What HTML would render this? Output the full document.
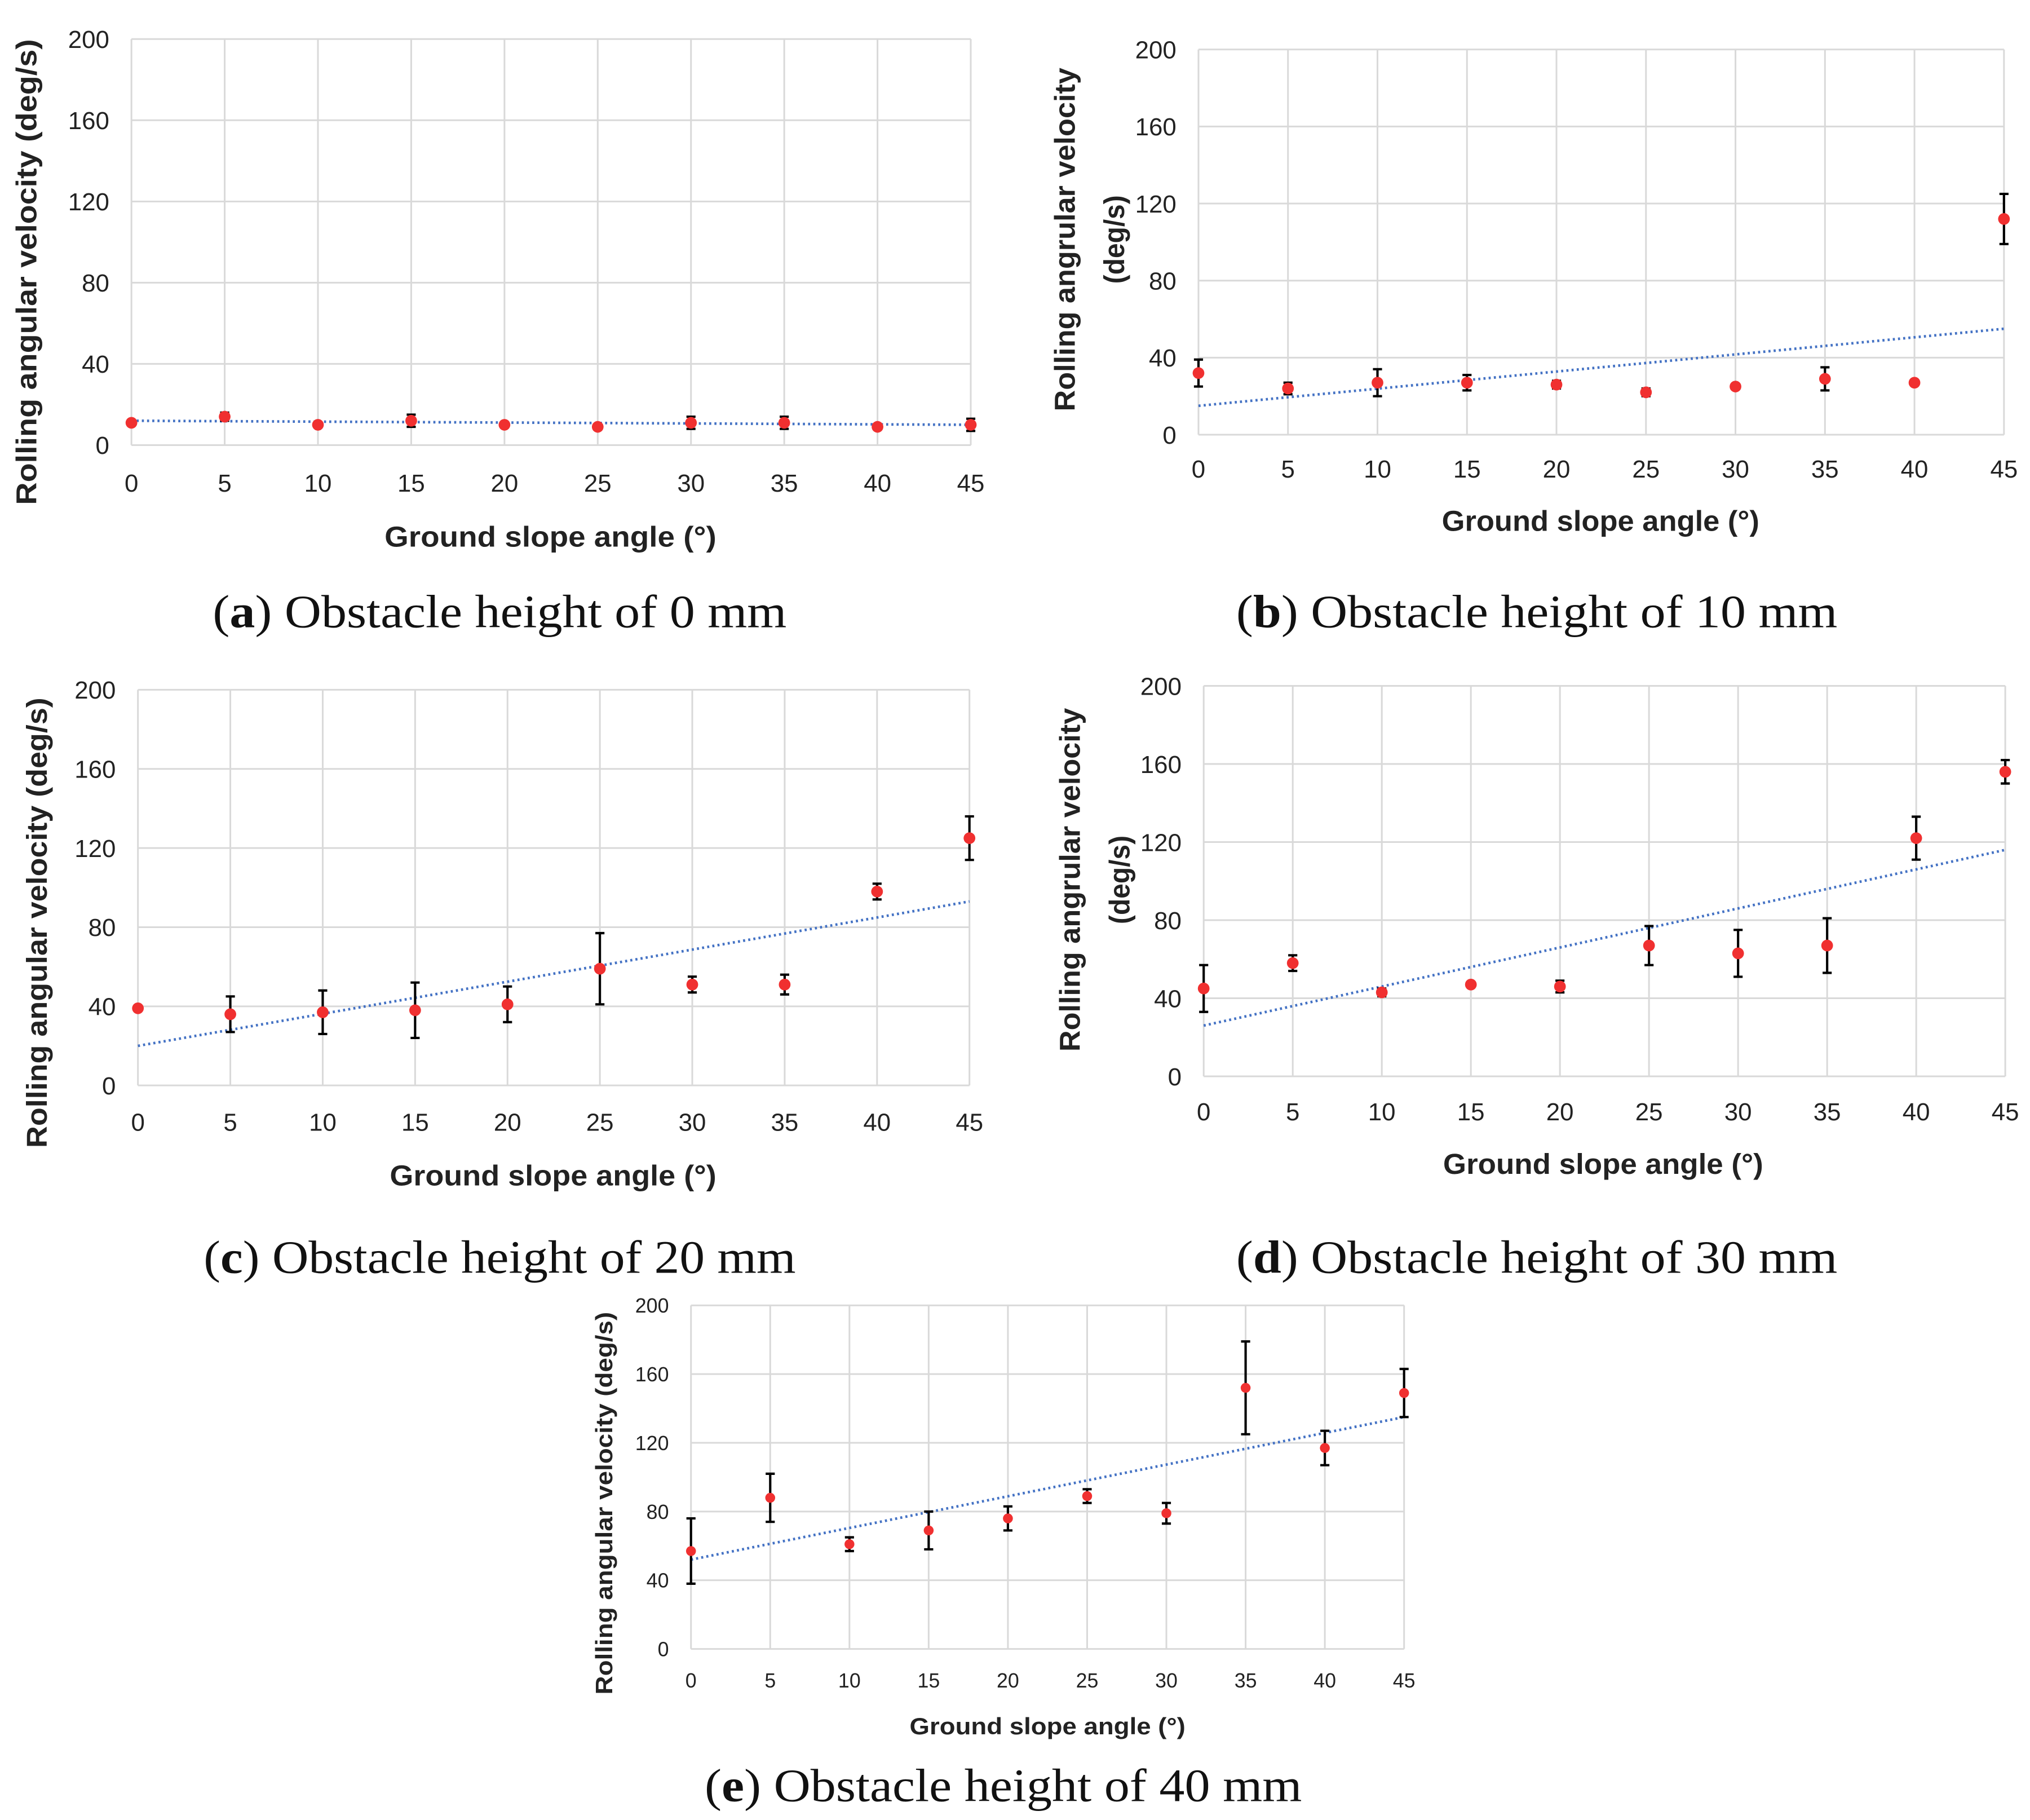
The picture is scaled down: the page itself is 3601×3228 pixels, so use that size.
<!DOCTYPE html>
<html><head><meta charset="utf-8"><style>
html,body{margin:0;padding:0;background:#fff}
svg{display:block}
</style></head><body>
<svg id="fig" width="3601" height="3228" viewBox="0 0 1560 1398.4" xmlns="http://www.w3.org/2000/svg"></svg>
<script>
const categories=[0,5,10,15,20,25,30,35,40,45];
const yTicks=[0,40,80,120,160,200];
const valsA=[11,14,10,12,10,9,11,11,9,10];
const errA=[1,2,1,3,1,1,3,3,1,3];
const trendA=[12,10];
const valsB=[32,24,27,27,26,22,25,29,27,112];
const errB=[7,3,7,4,2,2,1,6,1,13];
const trendB=[15,55];
const valsC=[39,36,37,38,41,59,51,51,98,125];
const errC=[1,9,11,14,9,18,4,5,4,11];
const trendC=[20,93];
const valsD=[45,58,43,47,46,67,63,67,122,156];
const errD=[12,4,2,1,3,10,12,14,11,6];
const trendD=[26,116];
const valsE=[57,88,61,69,76,89,79,152,117,149];
const errE=[19,14,4,11,7,4,6,27,10,14];
const trendE=[52,135];
const captionsText=["a","b","c","d","e"];

const NS="http://www.w3.org/2000/svg";
const svg=document.getElementById('fig');
function mk(tag,attrs,parent){const e=document.createElementNS(NS,tag);for(const k in attrs)e.setAttribute(k,attrs[k]);(parent||svg).appendChild(e);return e;}

const panels=[
 {id:'a',vals:valsA,err:errA,tr:trendA,L:101,R:746,T:30,B:342,fs:19,tfs:22,xtLen:255,yl:[20],ylText:["Rolling angular velocity (deg/s)"],ylLen:[358],yc:209,xlY:371,xtY:412,xtX:423,capY:470,capX:384,capT:"Obstacle height of 0 mm",capLen:441,ytfs:22},
 {id:'b',vals:valsB,err:errB,tr:trendB,L:921,R:1540,T:38,B:334,fs:19,tfs:22,xtLen:244,yl:[818,856],ylText:["Rolling angrular velocity","(deg/s)"],ylLen:[264,68],yc:184,xlY:360,xtY:400,xtX:1230,capY:470,capX:1181,capT:"Obstacle height of 10 mm",capLen:462,ytfs:22},
 {id:'c',vals:valsC,err:errC,tr:trendC,L:106,R:745,T:530,B:834,fs:19,tfs:22,xtLen:251,yl:[28],ylText:["Rolling angular velocity (deg/s)"],ylLen:[346],yc:709,xlY:862,xtY:903,xtX:425,capY:966,capX:384,capT:"Obstacle height of 20 mm",capLen:455,ytfs:22},
 {id:'d',vals:valsD,err:errD,tr:trendD,L:925,R:1541,T:527,B:827,fs:19,tfs:22,xtLen:246,yl:[822,860],ylText:["Rolling angrular velocity","(deg/s)"],ylLen:[264,68],yc:676,xlY:854,xtY:894,xtX:1232,capY:966,capX:1181,capT:"Obstacle height of 30 mm",capLen:462,ytfs:22},
 {id:'e',vals:valsE,err:errE,tr:trendE,L:531,R:1079,T:1003,B:1267,fs:15.5,tfs:18,xtLen:212,yl:[464],ylText:["Rolling angular velocity (deg/s)"],ylLen:[294],yc:1155,xlY:1291,xtY:1326,xtX:805,capY:1372,capX:771,capT:"Obstacle height of 40 mm",capLen:459,ytfs:18}
];
const sans='"Liberation Sans", sans-serif';
const serif='"Liberation Serif", serif';
panels.forEach((p,pi)=>{
 const g=mk('g',{});
 
 
 const xs=v=>p.L+(v-0)/(45-0)*(p.R-p.L);
 const ys=v=>p.B-(v-0)/(200-0)*(p.B-p.T);
 yTicks.forEach(t=>{
  const l=mk('line',{x1:p.L,x2:p.R,y1:ys(t),y2:ys(t),stroke:'#d9d9d9','stroke-width':1.3},g);
  
  
  const tx=mk('text',{x:p.L-17,y:ys(t)+p.fs*0.36,'text-anchor':'end','font-family':sans,'font-size':p.fs,fill:'#222'},g);
  tx.textContent=t;
  
  
 });
 categories.forEach(c=>{
  const l=mk('line',{x1:xs(c),x2:xs(c),y1:p.T,y2:p.B,stroke:'#d9d9d9','stroke-width':1.3},g);
  
  
  const tx=mk('text',{x:xs(c),y:p.xlY+p.fs*0.36,'text-anchor':'middle','font-family':sans,'font-size':p.fs,fill:'#222'},g);
  tx.textContent=c;
  
  
 });
 const tl=mk('line',{x1:xs(0),y1:ys(p.tr[0]),x2:xs(45),y2:ys(p.tr[1]),stroke:'#4472c4','stroke-width':2,'stroke-dasharray':'1.6 2.4'},g);
 
 
 categories.forEach((c,i)=>{
  const v=p.vals[i],e=p.err[i],x=xs(c);
  const eg=mk('g',{},g);
  
  
  mk('line',{x1:x,x2:x,y1:ys(v+e),y2:ys(v-e),stroke:'#000','stroke-width':1.8},eg);
  mk('line',{x1:x-3.5,x2:x+3.5,y1:ys(v+e),y2:ys(v+e),stroke:'#000','stroke-width':1.8},eg);
  mk('line',{x1:x-3.5,x2:x+3.5,y1:ys(v-e),y2:ys(v-e),stroke:'#000','stroke-width':1.8},eg);
  const pt=mk('circle',{cx:x,cy:ys(v),r:pi==4?3.8:4.5,fill:'#f03030'},g);
  
  
 });
 const xt=mk('text',{x:p.xtX,y:p.xtY+p.tfs*0.36,'text-anchor':'middle','font-family':sans,'font-weight':'bold','font-size':p.tfs,fill:'#222',textLength:p.xtLen,lengthAdjust:'spacingAndGlyphs'},g);
 xt.textContent="Ground slope angle (°)";
 
 
 p.yl.forEach((yx,k)=>{
  const yt=mk('text',{x:yx,y:p.yc,'text-anchor':'middle','font-family':sans,'font-weight':'bold','font-size':p.ytfs,fill:'#222',transform:`rotate(-90 ${yx} ${p.yc})`,dy:p.ytfs*0.36,textLength:p.ylLen[k],lengthAdjust:'spacingAndGlyphs'},g);
  yt.textContent=p.ylText[k];
  
  
 });
 const cap=mk('text',{x:p.capX,y:p.capY+12,'text-anchor':'middle','font-family':serif,'font-size':36,fill:'#111',textLength:p.capLen,lengthAdjust:'spacingAndGlyphs'},g);
 
 
 const t1=mk('tspan',{},cap);t1.textContent="(";
 const t2=mk('tspan',{'font-weight':'bold'},cap);t2.textContent=captionsText[pi];
 const t3=mk('tspan',{},cap);t3.textContent=") "+p.capT;
});
</script>
</body></html>
